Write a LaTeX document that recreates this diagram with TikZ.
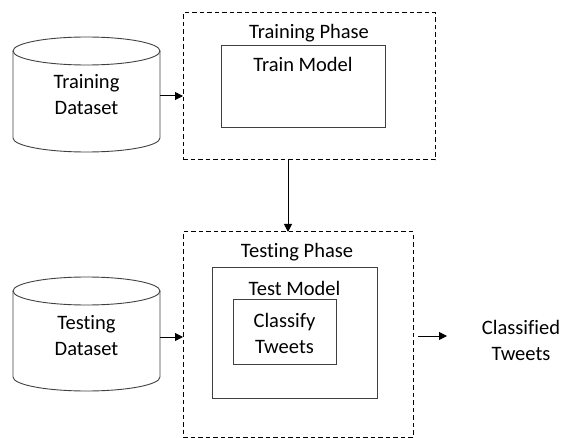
\documentclass[tikz,border=0pt]{standalone}
\usepackage{fontspec}
\setmainfont{Carlito}[Ligatures=NoCommon]
\usetikzlibrary{arrows.meta}
\begin{document}
\begin{tikzpicture}[x=1pt,y=-1pt,
  lbl/.style={font=\fontsize{20.5}{26}\selectfont, align=center, inner sep=0pt},
  phase/.style={draw=black, line width=1pt, dash pattern=on 4.5pt off 3pt},
  box/.style={draw=black!75, line width=0.9pt},
  cyl/.style={draw=black!75, line width=0.9pt},
  arr/.style={draw=black, line width=1pt, -{Triangle[length=8pt,width=8pt]}},
  area/.style={inner sep=0pt, outer sep=0pt}]
\useasboundingbox (0,0) rectangle (562,438);
% training dataset cylinder
\node[area, minimum width=147pt, minimum height=115pt] (trd) at (86.5,96) {};
\draw[cyl] (13,51) -- (13,138) arc[start angle=180, end angle=360, x radius=73.5pt, y radius=14pt] -- (160,51);
\draw[cyl] (86.5,51) ellipse[x radius=73.5pt, y radius=14pt];
\node[lbl] at (86.5,95) {Training\\Dataset};
% testing dataset cylinder
\node[area, minimum width=147pt, minimum height=115pt] (tsd) at (86.5,337) {};
\draw[cyl] (13,291) -- (13,377) arc[start angle=180, end angle=360, x radius=73.5pt, y radius=14pt] -- (160,291);
\draw[cyl] (86.5,291) ellipse[x radius=73.5pt, y radius=14pt];
\node[lbl] at (86.5,336) {Testing\\Dataset};
% training phase
\node[phase, area, minimum width=252pt, minimum height=147pt] (trp) at (309,86.5) {};
\node[lbl] (trpl) at (309,33) {Training Phase};
\node[box, area, minimum width=164pt, minimum height=82pt] (trm) at (303,86) {};
\node[lbl] (trml) at (303,64) {Train Model};
% testing phase
\node[phase, area, minimum width=230pt, minimum height=205pt] (tsp) at (298,334.5) {};
\node[lbl] (tspl) at (297,252) {Testing Phase};
\node[box, area, minimum width=165pt, minimum height=131pt] (tsm) at (294.5,332.5) {};
\node[lbl] (tsml) at (294.5,288) {Test Model};
\node[box, area, minimum width=103pt, minimum height=65pt] (clt) at (284.5,331.5) {};
\node[lbl] (cltl) at (284.5,333) {Classify\\Tweets};
% output
\node[lbl] (out) at (521,340) {Classified\\Tweets};
\coordinate (o1) at (418,336);
\coordinate (o2) at (447,336);
% connectors
\draw[arr] (trd.east) -- (trd.east -| trp.west);
\draw[arr] (tsd.east) -- (tsd.east -| tsp.west);
\coordinate (dx) at (288,0);
\draw[arr] (dx |- trp.south) -- (dx |- tsp.north);
\draw[arr] (o1) -- (o2);
\end{tikzpicture}
\end{document}
